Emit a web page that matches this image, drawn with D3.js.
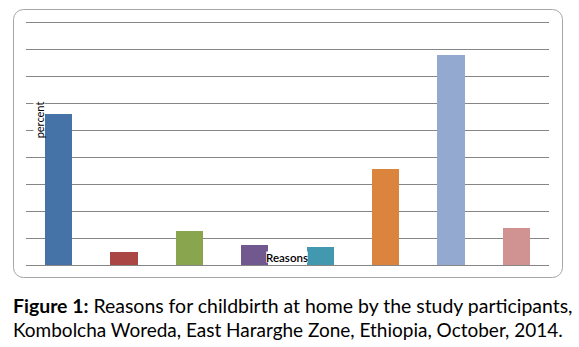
<!DOCTYPE html>
<html>
<head>
<meta charset="utf-8">
<script src="https://cdn.jsdelivr.net/npm/d3@7"></script>
<style>
  html, body { margin: 0; padding: 0; background: #fff; }
  svg { display: block; }
</style>
</head>
<body>
<svg id="chart" width="579" height="347"></svg>
<script>
const categories = ["Reason 1", "Reason 2", "Reason 3", "Reason 4", "Reason 5", "Reason 6", "Reason 7", "Reason 8"];
const values = [28.0, 2.4, 6.3, 3.7, 3.3, 17.8, 38.9, 6.9];
const barColors = ["#4573A8", "#AA4643", "#89A54E", "#71588F", "#4198AF", "#DB843D", "#93A9CF", "#D19392"];
const yTicks = [0, 5, 10, 15, 20, 25, 30, 35, 40, 45];
const yTitle = "percent";
const xTitle = "Reasons";
const captionBold = "Figure 1:";
const captionLine1 = " Reasons for childbirth at home by the study participants,";
const captionLine2 = "Kombolcha Woreda, East Hararghe Zone, Ethiopia, October, 2014.";

const svg = d3.select("#chart");
const font = "Lato, 'Open Sans', sans-serif";

// outer chart frame
svg.append("rect")
  .attr("x", 13.5).attr("y", 9.5)
  .attr("width", 549).attr("height", 268)
  .attr("rx", 10).attr("ry", 10)
  .attr("fill", "#fff")
  .attr("stroke", "#a6a6a6")
  .attr("stroke-width", 1);

const x = d3.scaleBand()
  .domain(categories)
  .range([26, 549])
  .paddingInner(0.585)
  .paddingOuter(0.2925);

const y = d3.scaleLinear()
  .domain([0, 45])
  .range([265, 22]);

// gridlines via axis
const grid = svg.append("g")
  .attr("transform", "translate(26,0)")
  .call(d3.axisLeft(y).tickValues(yTicks).tickSize(-(549 - 26)).tickFormat(""));
grid.select(".domain").remove();
grid.selectAll(".tick line")
  .attr("stroke", "#868686")
  .attr("stroke-width", 1)
  .attr("shape-rendering", "crispEdges");

// bars
svg.append("g").selectAll("rect")
  .data(values)
  .join("rect")
  .attr("x", (d, i) => x(categories[i]))
  .attr("y", d => y(d))
  .attr("width", x.bandwidth())
  .attr("height", d => y(0) - y(d))
  .attr("fill", (d, i) => barColors[i])
  .attr("shape-rendering", "crispEdges");

// axis titles with white backgrounds
function labelWithBg(g, text, size) {
  const t = g.append("text")
    .attr("font-family", font)
    .attr("font-size", size)
    .attr("fill", "#000")
    .attr("text-anchor", "middle")
    .text(text);
  const b = t.node().getBBox();
  g.insert("rect", "text")
    .attr("x", b.x).attr("y", b.y + 1)
    .attr("width", b.width).attr("height", b.height - 2)
    .attr("fill", "#fff");
  return t;
}

const yt = svg.append("g").attr("transform", "translate(43.5,120) rotate(-90)");
labelWithBg(yt, yTitle, 11);

const xt = svg.append("g").attr("transform", "translate(287,261.5)");
labelWithBg(xt, xTitle, 11.5).attr("font-weight", 600);

// caption
function fitLine(textSel, target) {
  let size = 17;
  textSel.attr("font-size", size);
  const w = textSel.node().getComputedTextLength();
  size = size * target / w;
  textSel.attr("font-size", size);
}

const c1 = svg.append("text")
  .attr("x", 13).attr("y", 313)
  .attr("font-family", font)
  .attr("fill", "#000");
c1.append("tspan").attr("font-weight", "bold").text(captionBold);
c1.append("tspan").text(captionLine1);
fitLine(c1, 560);

const c2 = svg.append("text")
  .attr("x", 13).attr("y", 337)
  .attr("font-family", font)
  .attr("fill", "#000")
  .text(captionLine2);
fitLine(c2, 550);
</script>
</body>
</html>
